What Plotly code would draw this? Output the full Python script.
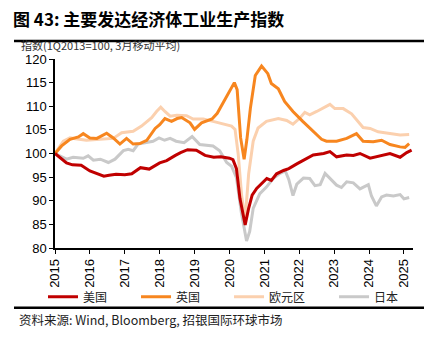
import plotly.graph_objects as go

# ---- data (decimal years, index values) ----
us_t = [2015.0, 2015.15, 2015.33, 2015.5, 2015.75, 2016.0, 2016.2, 2016.4, 2016.55, 2016.75,
        2017.0, 2017.2, 2017.45, 2017.7, 2018.0, 2018.2, 2018.45, 2018.6, 2018.8, 2019.05,
        2019.3, 2019.55, 2019.75, 2020.0, 2020.1, 2020.2, 2020.3, 2020.45, 2020.55, 2020.65,
        2020.78, 2020.92, 2021.07, 2021.2, 2021.35, 2021.55, 2021.7, 2021.93, 2022.12, 2022.4,
        2022.7, 2022.88, 2023.07, 2023.36, 2023.55, 2023.74, 2024.03, 2024.31, 2024.6, 2024.89,
        2025.08, 2025.22]
us_v = [100.0, 99.0, 98.0, 97.6, 97.5, 96.3, 95.8, 95.2, 95.4, 95.6,
        95.5, 95.7, 97.0, 96.7, 98.0, 98.5, 99.6, 100.2, 100.8, 100.7,
        99.6, 99.2, 99.3, 99.0, 98.7, 96.8, 90.5, 84.9, 88.4, 91.2,
        92.6, 93.6, 94.7, 94.3, 95.7, 96.4, 96.8, 97.8, 98.5, 99.7,
        100.0, 100.4, 99.3, 99.7, 99.6, 100.0, 99.0, 99.5, 100.0, 99.2,
        100.2, 100.7]

uk_t = [2015.0, 2015.19, 2015.43, 2015.67, 2015.81, 2016.0, 2016.2, 2016.48, 2016.67, 2016.86,
        2017.05, 2017.24, 2017.43, 2017.63, 2017.87, 2018.0, 2018.15, 2018.34, 2018.5, 2018.63,
        2018.87, 2019.0, 2019.2, 2019.5, 2019.65, 2019.85, 2020.02, 2020.14, 2020.22, 2020.32,
        2020.42, 2020.5, 2020.6, 2020.74, 2020.92, 2021.1, 2021.2, 2021.4, 2021.58, 2021.82,
        2022.1, 2022.4, 2022.64, 2022.78, 2023.07, 2023.36, 2023.64, 2023.83, 2024.12, 2024.36,
        2024.6, 2024.89, 2025.03, 2025.15]
uk_v = [100.0, 101.6, 103.0, 103.5, 104.2, 103.3, 103.2, 104.3, 103.3, 102.0,
        103.2, 102.0, 102.1, 102.8, 105.3, 106.1, 107.4, 106.8, 107.4, 107.6,
        106.5, 105.1, 106.5, 107.3, 108.5, 111.2, 113.5, 115.0, 113.5, 103.3,
        98.8, 103.0, 109.6, 116.5, 118.5, 116.9, 114.8, 113.7, 111.0, 108.9,
        106.8, 104.7, 103.0, 102.6, 102.6, 103.2, 104.2, 102.6, 102.5, 102.8,
        101.9, 101.4, 101.3, 102.1]

ez_t = [2015.0, 2015.24, 2015.43, 2015.9, 2016.29, 2016.67, 2016.91, 2017.24, 2017.48, 2017.77,
        2017.91, 2018.03, 2018.15, 2018.3, 2018.49, 2018.77, 2018.96, 2019.25, 2019.53, 2019.82,
        2020.06, 2020.16, 2020.25, 2020.35, 2020.45, 2020.55, 2020.68, 2020.82, 2021.06, 2021.4,
        2021.64, 2021.82, 2022.02, 2022.16, 2022.3, 2022.5, 2022.68, 2022.88, 2023.02, 2023.26,
        2023.5, 2023.69, 2023.83, 2024.03, 2024.26, 2024.45, 2024.65, 2024.89, 2025.15]
ez_v = [100.0, 102.6, 103.3, 102.8, 103.0, 103.2, 104.4, 104.7, 105.8, 107.6,
        108.9, 109.8, 108.9, 107.9, 108.1, 108.0, 107.3, 107.3, 106.8, 106.3,
        105.8, 105.1, 99.9, 91.0, 86.0, 95.7, 102.6, 105.4, 106.8, 107.4,
        107.0, 106.2, 107.5, 108.7, 108.2, 108.9, 109.6, 110.4, 109.5, 109.5,
        108.4, 106.8, 105.5, 105.3, 104.6, 104.4, 104.2, 103.9, 104.0]

jp_t = [2015.0, 2015.15, 2015.33, 2015.52, 2015.81, 2015.95, 2016.1, 2016.3, 2016.53, 2016.72,
        2016.96, 2017.1, 2017.24, 2017.38, 2017.58, 2017.81, 2017.98, 2018.14, 2018.3, 2018.47,
        2018.7, 2018.93, 2019.15, 2019.35, 2019.53, 2019.72, 2019.92, 2020.06, 2020.2, 2020.34,
        2020.49, 2020.58, 2020.68, 2020.87, 2021.06, 2021.25, 2021.45, 2021.6, 2021.7, 2021.82,
        2021.93, 2022.12, 2022.3, 2022.45, 2022.6, 2022.74, 2022.88, 2023.07, 2023.21, 2023.36,
        2023.55, 2023.74, 2023.98, 2024.07, 2024.21, 2024.36, 2024.5, 2024.7, 2024.89, 2025.0,
        2025.15]
jp_v = [100.0, 99.4, 98.8, 99.2, 99.0, 99.5, 98.6, 98.8, 98.1, 98.8,
        100.6, 100.9, 100.6, 102.0, 102.3, 102.6, 103.3, 102.8, 103.2, 102.6,
        102.3, 103.6, 101.9, 101.7, 101.6, 100.6, 98.1, 97.3, 94.9, 87.5,
        81.5, 83.5, 88.4, 91.5, 92.9, 94.7, 95.8, 96.3, 94.5, 91.1,
        93.5, 94.8, 94.7, 93.2, 93.4, 95.8, 94.8, 93.3, 92.8, 94.0,
        93.8, 92.5, 93.4, 91.0, 88.9, 90.8, 91.2, 91.0, 91.3, 90.4,
        90.7]

series_names = ["美国", "英国", "欧元区", "日本"]
series_colors = ["#C00000", "#F7861F", "#FBD0AE", "#C9C9C9"]
year_ticks = list(range(2015, 2026))
year_labels = [str(y) for y in year_ticks]
y_ticks = list(range(80, 121, 5))

title_text = "图 43: 主要发达经济体工业生产指数"
subtitle_text = "指数(1Q2013=100, 3月移动平均)"
source_text = "资料来源: Wind, Bloomberg, 招银国际环球市场"

# ---- figure ----
W, H = 432, 346
L, R, T, B = 55, 19, 58.5, 98
ph = H - T - B
pw = W - L - R

def px_x(px):
    return (px - L) / pw

def px_y(py):
    return (H - B - py) / ph

pad = "\u3000\u3000"  # spacing between legend entries

fig = go.Figure()
order = [3, 2, 1, 0]  # draw Japan first, US on top
data_t = [us_t, uk_t, ez_t, jp_t]
data_v = [us_v, uk_v, ez_v, jp_v]
for i in order:
    fig.add_trace(go.Scatter(
        x=data_t[i], y=data_v[i], mode="lines",
        name=series_names[i] + (pad if i < 3 else ""),
        line=dict(color=series_colors[i], width=3), legendrank=i + 1,
    ))

cjk = "Noto Sans CJK SC"
fig.update_layout(
    width=W, height=H,
    margin=dict(l=L, r=R, t=T, b=B, pad=0),
    paper_bgcolor="white", plot_bgcolor="white",
    font=dict(family="Liberation Sans, Arial", size=13, color="black"),
    showlegend=True,
    legend=dict(orientation="h", x=px_x(43), y=px_y(297), xanchor="left", yanchor="middle",
                font=dict(family=cjk, size=12, color="#222"), itemwidth=30,
                traceorder="normal", bgcolor="rgba(0,0,0,0)"),
    xaxis=dict(range=[2015, 2025.26], tickmode="array", tickvals=year_ticks, ticktext=year_labels,
               tickangle=-90, showgrid=False, zeroline=False, showline=True, linecolor="black",
               linewidth=1.5, ticks="outside", ticklen=4, tickcolor="black",
               tickfont=dict(size=13)),
    yaxis=dict(range=[80, 120], tickmode="array", tickvals=y_ticks, showgrid=False, zeroline=False,
               showline=True, linecolor="black", linewidth=1.5, ticks="outside", ticklen=4,
               tickcolor="black", tickfont=dict(size=13)),
)

fig.add_shape(type="line", xref="paper", yref="paper", x0=px_x(14), x1=px_x(424),
              y0=px_y(40.5), y1=px_y(40.5), line=dict(color="black", width=2.5))
fig.add_shape(type="line", xref="paper", yref="paper", x0=px_x(14), x1=px_x(424),
              y0=px_y(308), y1=px_y(308), line=dict(color="black", width=2.5))

fig.add_annotation(text="<b>" + title_text + "</b>", xref="paper", yref="paper",
                   x=px_x(11), y=px_y(18), xanchor="left", yanchor="middle", showarrow=False,
                   font=dict(family=cjk, size=17, color="black"))
fig.add_annotation(text=subtitle_text, xref="paper", yref="paper",
                   x=px_x(19), y=px_y(44), xanchor="left", yanchor="middle", showarrow=False,
                   font=dict(family=cjk, size=11, color="#333"))
fig.add_annotation(text=source_text, xref="paper", yref="paper",
                   x=px_x(17), y=px_y(320), xanchor="left", yanchor="middle", showarrow=False,
                   font=dict(family=cjk, size=12.5, color="#222"))

fig.write_html("out.html")
